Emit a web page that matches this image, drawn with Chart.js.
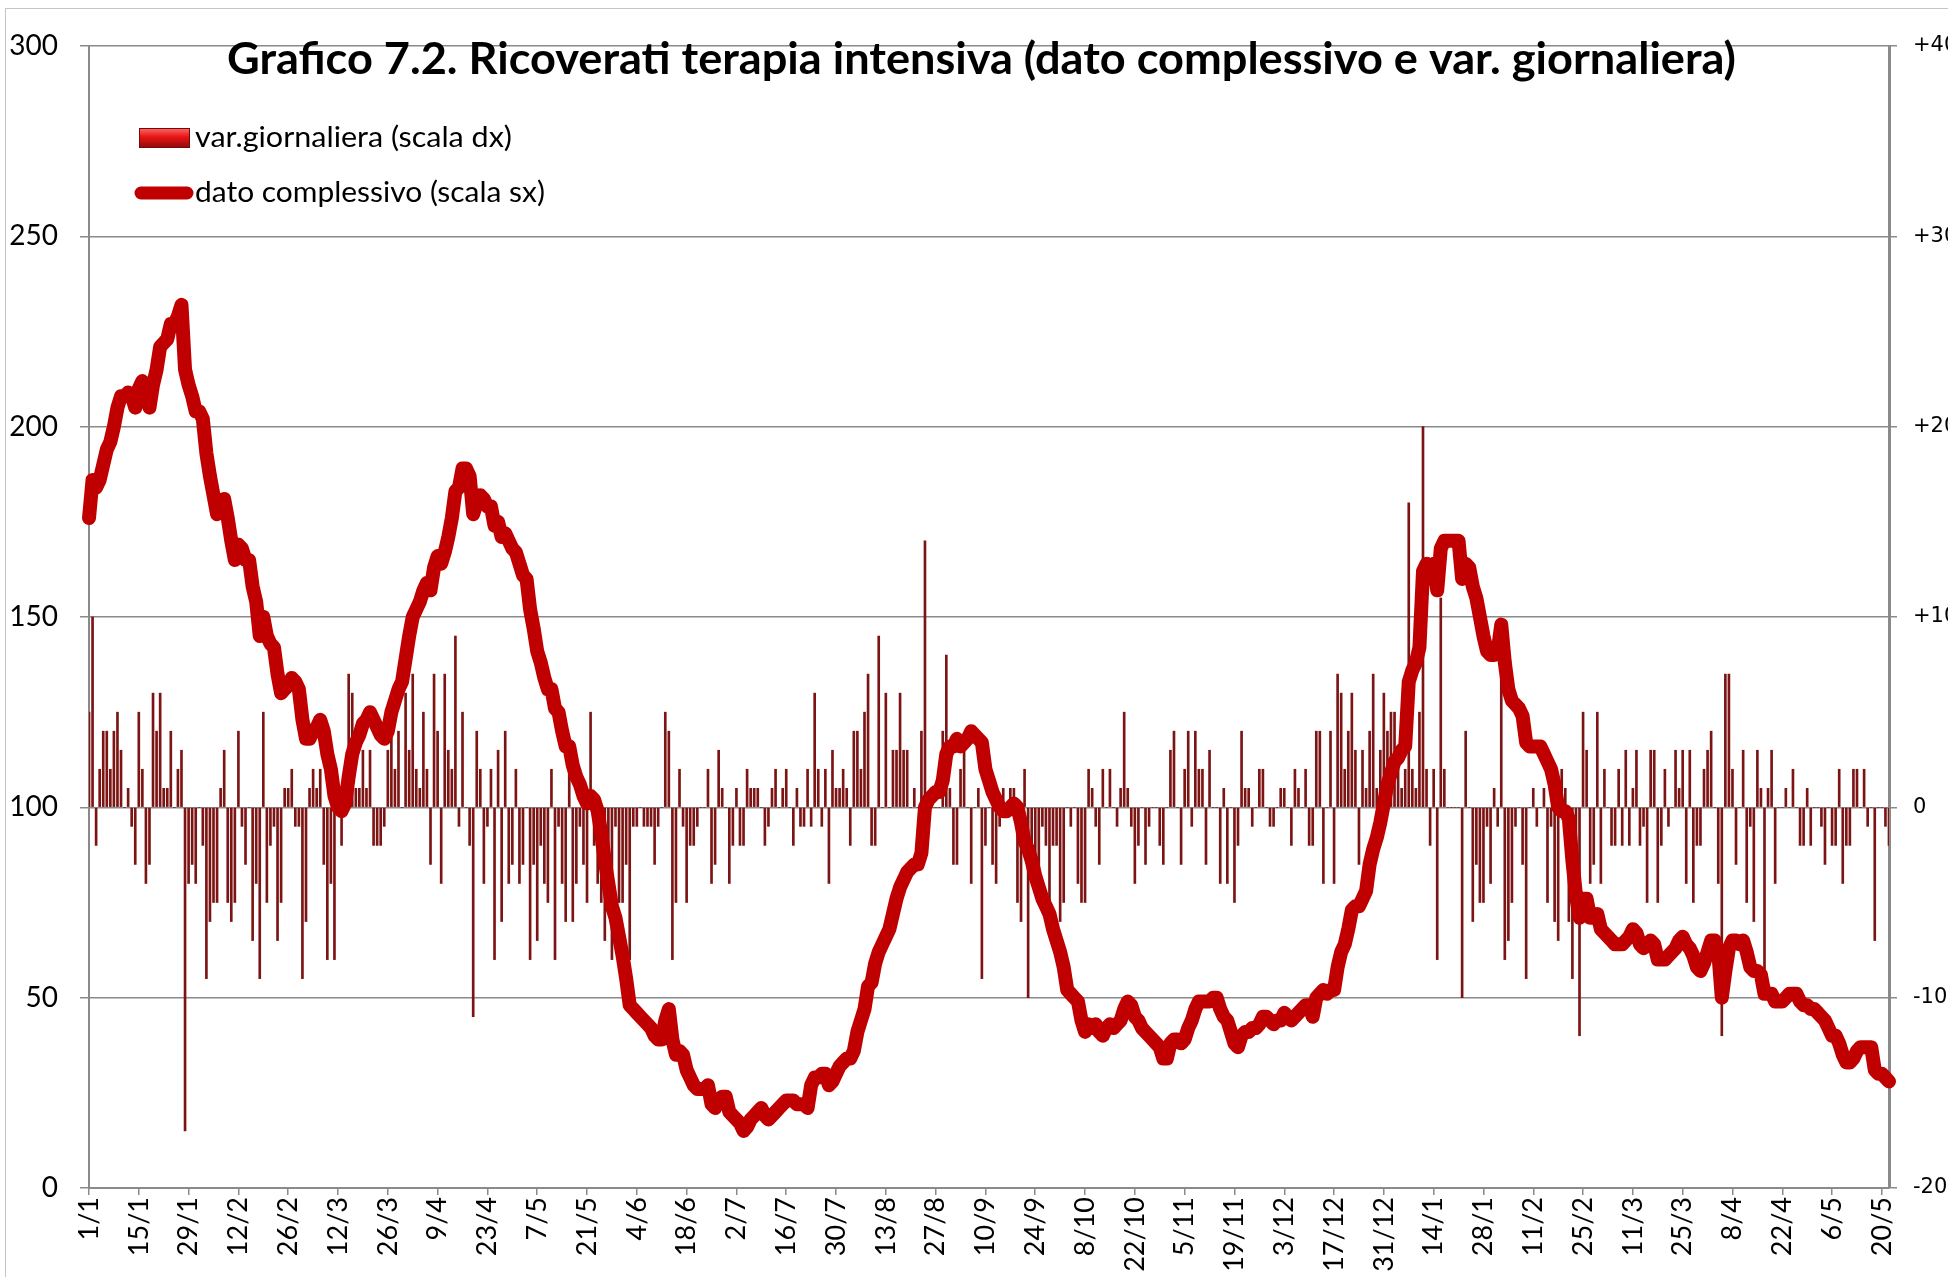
<!DOCTYPE html>
<html>
<head>
<meta charset="utf-8">
<title>Grafico 7.2 - Ricoverati terapia intensiva</title>
<script src="https://cdn.jsdelivr.net/npm/chart.js@4.4.1/dist/chart.umd.min.js"></script>
<style>
    html, body { margin: 0; padding: 0; background: #fff; overflow: hidden; }
    #wrap { position: relative; width: 2010px; height: 1277px; }
</style>
</head>
<body>
<div id="wrap"><canvas id="icuChart" width="2010" height="1277"></canvas></div>
<script>
// Dati: un valore al giorno dal 1/1/2021 al 22/5/2022
const startDate = [2021, 0, 1];

// tick dell'asse x (uno ogni 14 giorni)
const tickLabels = ['1/1', '15/1', '29/1', '12/2', '26/2', '12/3', '26/3', '9/4', '23/4', '7/5',
    '21/5', '4/6', '18/6', '2/7', '16/7', '30/7', '13/8', '27/8', '10/9', '24/9',
    '8/10', '22/10', '5/11', '19/11', '3/12', '17/12', '31/12', '14/1', '28/1', '11/2',
    '25/2', '11/3', '25/3', '8/4', '22/4', '6/5', '20/5'];

const leftTicks = [0, 50, 100, 150, 200, 250, 300];
const rightTicks = [-20, -10, 0, 10, 20, 30, 40];

// dato complessivo (scala sx)
const totalIcu = [
    176, 186, 184, 186, 190, 194, 196, 200, 205, 208,
    208, 209, 208, 205, 210, 212, 208, 205, 211, 215,
    221, 222, 223, 227, 227, 229, 232, 215, 211, 208,
    204, 204, 202, 193, 187, 182, 177, 178, 181, 176,
    170, 165, 169, 168, 165, 165, 158, 154, 145, 150,
    145, 143, 142, 135, 130, 131, 132, 134, 133, 131,
    123, 118, 118, 120, 121, 123, 120, 114, 110, 103,
    100, 99, 101, 108, 114, 117, 119, 122, 123, 125,
    123, 121, 119, 118, 120, 125, 128, 131, 133, 139,
    145, 150, 152, 154, 157, 159, 157, 163, 166, 164,
    167, 171, 176, 183, 184, 189, 189, 187, 177, 180,
    182, 181, 179, 179, 174, 175, 171, 172, 170, 168,
    167, 164, 161, 160, 152, 147, 141, 138, 134, 131,
    131, 126, 125, 120, 116, 116, 111, 108, 106, 103,
    101, 103, 102, 99, 93, 86, 80, 74, 71, 66,
    61, 55, 48, 47, 46, 45, 44, 43, 42, 40,
    39, 39, 44, 47, 39, 35, 36, 35, 31, 29,
    27, 26, 26, 26, 27, 22, 21, 23, 24, 24,
    20, 19, 18, 17, 15, 16, 18, 19, 20, 21,
    19, 18, 19, 20, 21, 22, 23, 23, 23, 22,
    22, 22, 21, 27, 29, 29, 30, 30, 27, 28,
    30, 32, 33, 34, 34, 36, 41, 44, 47, 53,
    54, 59, 62, 64, 66, 68, 72, 76, 79, 81,
    83, 84, 85, 85, 88, 100, 102, 103, 104, 104,
    107, 114, 116, 116, 118, 116, 117, 118, 120, 119,
    118, 117, 110, 107, 104, 102, 100, 99, 99, 100,
    101, 100, 96, 91, 89, 86, 82, 79, 76, 74,
    72, 68, 65, 62, 58, 52, 51, 50, 49, 44,
    41, 43, 42, 43, 41, 40, 42, 43, 42, 43,
    44, 47, 49, 48, 45, 44, 42, 41, 40, 39,
    38, 37, 34, 34, 38, 39, 39, 38, 39, 42,
    44, 47, 49, 49, 49, 49, 50, 50, 47, 45,
    44, 41, 38, 37, 40, 41, 41, 42, 42, 43,
    45, 45, 44, 43, 44, 44, 46, 45, 44, 45,
    46, 47, 48, 48, 45, 50, 51, 52, 51, 52,
    52, 58, 62, 64, 68, 73, 74, 74, 76, 78,
    85, 89, 92, 96, 101, 106, 109, 112, 113, 115,
    116, 133, 136, 138, 142, 162, 164, 162, 164, 157,
    168, 170, 170, 170, 170, 170, 160, 164, 163, 158,
    155, 150, 145, 141, 140, 140, 141, 148, 138, 131,
    128, 127, 126, 124, 117, 116, 116, 116, 116, 114,
    112, 110, 106, 100, 99, 99, 97, 86, 77, 71,
    76, 76, 71, 71, 72, 68, 67, 66, 65, 64,
    64, 64, 65, 66, 68, 67, 64, 63, 64, 65,
    64, 60, 60, 60, 61, 62, 63, 65, 66, 64,
    63, 61, 58, 57, 59, 62, 65, 65, 62, 50,
    57, 63, 65, 65, 64, 65, 62, 58, 57, 57,
    56, 51, 51, 51, 49, 49, 49, 50, 51, 51,
    51, 49, 48, 48, 47, 47, 46, 45, 44, 42,
    40, 40, 38, 35, 33, 33, 34, 36, 37, 37,
    37, 37, 31, 30, 30, 29, 28
];

// var. giornaliera (scala dx)
const dailyChange = [
    5, 10, -2, 2, 4, 4, 2, 4, 5, 3,
    0, 1, -1, -3, 5, 2, -4, -3, 6, 4,
    6, 1, 1, 4, 0, 2, 3, -17, -4, -3,
    -4, 0, -2, -9, -6, -5, -5, 1, 3, -5,
    -6, -5, 4, -1, -3, 0, -7, -4, -9, 5,
    -5, -2, -1, -7, -5, 1, 1, 2, -1, -1,
    -9, -6, 1, 2, 1, 2, -3, -8, -4, -8,
    1, -2, 1, 7, 6, 1, 1, 3, 1, 3,
    -2, -2, -2, -1, 3, 4, 2, 4, 0, 6,
    3, 7, 2, 1, 5, 2, -3, 7, 4, -4,
    7, 3, 2, 9, -1, 5, 0, -2, -11, 4,
    2, -4, -1, 2, -8, 3, -6, 4, -4, -3,
    2, -4, -3, 0, -8, -3, -7, -2, -4, -5,
    2, -8, -1, -4, -6, 2, -6, -4, -1, -3,
    -5, 5, -2, -4, -5, -7, -3, -8, -1, -5,
    -5, -3, -8, -1, -1, 0, -1, -1, -1, -3,
    -1, 0, 5, 4, -8, -5, 2, -1, -5, -2,
    -2, -1, 0, 0, 2, -4, -3, 3, 1, 0,
    -4, -2, 1, -2, -2, 2, 1, 1, 1, 0,
    -2, -1, 1, 2, 0, 1, 2, 0, -2, 1,
    -1, -1, 2, -1, 6, 2, -1, 2, -4, 3,
    1, 1, 2, 1, -2, 4, 4, 2, 5, 7,
    -2, -2, 9, 0, 6, 0, 3, 3, 6, 3,
    3, 0, 1, 0, 4, 14, 0, 0, 0, 0,
    4, 8, 1, -3, -3, 2, 3, 0, -4, 0,
    1, -9, -2, 0, -3, -4, -1, 1, 0, 1,
    1, -5, -6, 2, -10, -3, -3, -4, -1, -2,
    -5, -2, -2, -6, -5, 0, -1, 0, -4, -5,
    -5, 2, 1, -1, -3, 2, 0, 2, 0, -1,
    1, 5, 1, -1, -4, -2, 0, -3, -1, 0,
    0, -2, -3, 0, 3, 4, 0, -3, 2, 4,
    -1, 4, 2, 2, -3, 3, 0, 0, -4, 1,
    -4, 0, -5, -2, 4, 1, 1, -1, 0, 2,
    2, 0, -1, -1, 0, 1, 1, 0, -2, 2,
    1, 0, 2, -2, -2, 4, 4, -4, 0, 4,
    -4, 7, 6, 2, 4, 6, 3, -3, 3, 1,
    4, 7, 1, 3, 6, 4, 5, 5, 2, 1,
    2, 16, 2, 1, 5, 20, 2, -2, 2, -8,
    11, 2, 0, 0, 0, 0, -10, 4, 0, -6,
    -3, -5, -5, -1, -4, 1, -1, 9, -8, -7,
    -5, -1, 0, -3, -9, 0, 1, -1, 0, 1,
    -5, -1, -6, -7, 2, 1, -6, -9, -6, -12,
    5, 3, -4, -3, 5, -4, 2, 0, -2, -2,
    2, -2, 3, -2, 1, 3, -2, -1, -5, 3,
    3, -5, -2, 2, -1, 0, 3, 1, 3, -4,
    3, -5, -2, -2, 2, 3, 4, 0, -4, -12,
    7, 7, 2, -3, 0, 3, -5, -1, -6, 3,
    1, -9, 1, 3, -4, 0, 0, 1, 0, 2,
    0, -2, -2, 1, -2, 0, 0, -1, -3, 0,
    -2, -2, 2, -4, -2, -2, 2, 2, 0, 2,
    -1, 0, -7, 0, 0, -1, -2
];

// categorie giornaliere d/m
const categories = totalIcu.map(function(v, i) {
    const d = new Date(Date.UTC(startDate[0], startDate[1], startDate[2] + i));
    return d.getUTCDate() + '/' + (d.getUTCMonth() + 1);
});

const chartTitle = 'Grafico 7.2. Ricoverati terapia intensiva (dato complessivo e var. giornaliera)';
const GRID = '#8a8a8a';

// scrive un testo compresso orizzontalmente fino alla larghezza voluta
function fitText(ctx, text, x, y, width) {
    const w = ctx.measureText(text).width;
    ctx.save();
    ctx.translate(x, y);
    ctx.scale(width / w, 1);
    ctx.fillText(text, 0, 0);
    ctx.restore();
}

const framePlugin = {
    id: 'frame',
    beforeDraw(chart) {
        const c = chart.ctx;
        c.save();
        c.fillStyle = '#fff';
        c.fillRect(0, 0, chart.width, chart.height);
        c.strokeStyle = '#c4c4c4';
        c.lineWidth = 1;
        c.strokeRect(5.5, 8.5, chart.width + 20, chart.height + 20);
        c.restore();
    }
};

const overlayPlugin = {
    id: 'overlay',
    afterDraw(chart) {
        const c = chart.ctx;
        c.save();
        c.fillStyle = '#000';
        c.textAlign = 'left';
        c.textBaseline = 'alphabetic';

        // titolo
        c.font = 'bold 43px Lato';
        fitText(c, chartTitle, 227, 74, 1509);

        // legenda: barra
        const g = c.createLinearGradient(0, 128, 0, 148);
        g.addColorStop(0, '#ff6a6a');
        g.addColorStop(0.45, '#e81414');
        g.addColorStop(1, '#8e0a0a');
        c.fillStyle = g;
        c.fillRect(139, 128, 51, 20);
        c.strokeStyle = '#6e0c0c';
        c.lineWidth = 1;
        c.strokeRect(139.5, 128.5, 50, 19);

        // legenda: linea
        c.strokeStyle = '#c00000';
        c.lineWidth = 13;
        c.lineCap = 'round';
        c.beginPath();
        c.moveTo(141, 193);
        c.lineTo(187, 193);
        c.stroke();

        c.fillStyle = '#000';
        c.font = '28px Lato';
        fitText(c, 'var.giornaliera (scala dx)', 195, 147, 317);
        fitText(c, 'dato complessivo (scala sx)', 195, 202, 350);
        c.restore();
    }
};

const ctx = document.getElementById('icuChart').getContext('2d');
const icuChart = new Chart(ctx, {
    type: 'bar',
    data: {
        labels: categories,
        datasets: [
            {
                type: 'line',
                label: 'dato complessivo (scala sx)',
                data: totalIcu,
                yAxisID: 'y',
                borderColor: '#c00000',
                borderWidth: 14,
                borderCapStyle: 'round',
                borderJoinStyle: 'round',
                pointRadius: 0,
                tension: 0,
                order: 0
            },
            {
                type: 'bar',
                label: 'var.giornaliera (scala dx)',
                data: dailyChange,
                yAxisID: 'y2',
                backgroundColor: '#7d1414',
                barThickness: 2,
                order: 1
            }
        ]
    },
    options: {
        responsive: false,
        animation: false,
        devicePixelRatio: 1,
        layout: { padding: { top: 46, left: 0, right: 0, bottom: 0 } },
        plugins: {
            legend: { display: false },
            tooltip: { enabled: false },
            title: { display: false }
        },
        scales: {
            x: {
                offset: false,
                grid: {
                    offset: false,
                    drawOnChartArea: false,
                    drawTicks: true,
                    tickLength: 7,
                    lineWidth: 1.5,
                    color: function(c) { return c.index % 14 === 0 ? GRID : 'rgba(0,0,0,0)'; }
                },
                border: { display: true, color: GRID, width: 2 },
                ticks: {
                    autoSkip: false,
                    minRotation: 90,
                    maxRotation: 90,
                    padding: 2,
                    color: '#000',
                    font: { family: 'Lato', size: 27 },
                    callback: function(value, index) {
                        return index % 14 === 0 ? tickLabels[index / 14] : '';
                    }
                },
                afterFit: function(scale) { scale.height = 89; }
            },
            y: {
                position: 'left',
                min: leftTicks[0],
                max: leftTicks[leftTicks.length - 1],
                grid: { color: GRID, lineWidth: 1.5, tickLength: 9 },
                border: { display: true, color: GRID, width: 2 },
                ticks: {
                    stepSize: 50,
                    padding: 22,
                    color: '#000',
                    font: { family: 'Lato', size: 28 }
                },
                afterFit: function(scale) { scale.width = 89; }
            },
            y2: {
                position: 'right',
                min: rightTicks[0],
                max: rightTicks[rightTicks.length - 1],
                grid: { drawOnChartArea: false, color: GRID, lineWidth: 1.5, tickLength: 8 },
                border: { display: true, color: GRID, width: 3 },
                ticks: {
                    stepSize: 10,
                    padding: 16,
                    color: '#000',
                    font: { family: 'DejaVu Sans', size: 21 },
                    callback: function(v) { return v > 0 ? '+' + v : String(v); }
                },
                afterFit: function(scale) { scale.width = 121; }
            }
        }
    },
    plugins: [framePlugin, overlayPlugin]
});
</script>
</body>
</html>
